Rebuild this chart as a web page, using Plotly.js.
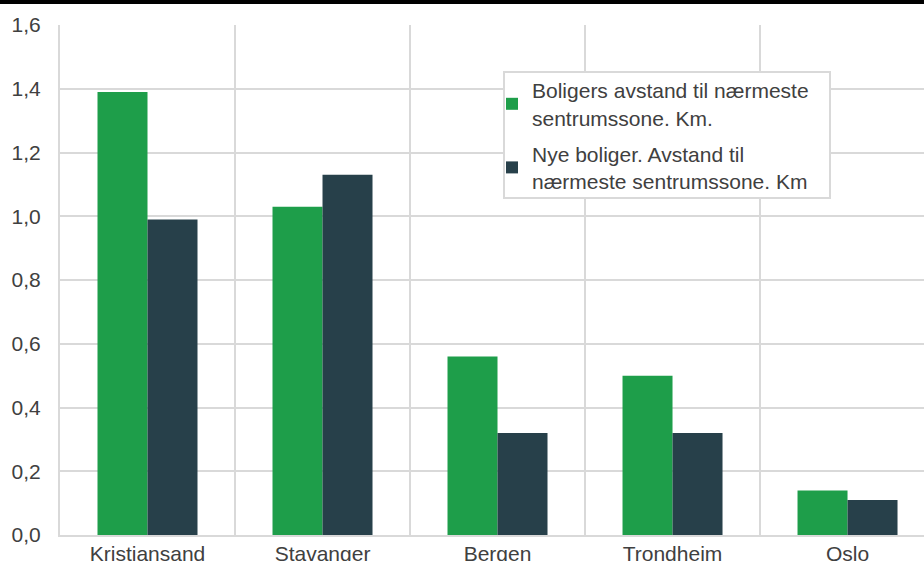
<!DOCTYPE html>
<html>
<head>
<meta charset="utf-8">
<script src="https://cdn.plot.ly/plotly-3.0.1.min.js"></script>
<style>
  html, body { margin: 0; padding: 0; background: #fff; }
  #wrap { position: relative; width: 924px; height: 561px; overflow: hidden; }
  #chart { width: 924px; height: 561px; }
  #topline { position: absolute; left: 0; top: 0; width: 924px; height: 4px; background: #000; z-index: 5; }
</style>
</head>
<body>
<div id="wrap">
  <div id="chart"></div>
  <div id="topline"></div>
</div>
<script>
const cities = ["Kristiansand", "Stavanger", "Bergen", "Trondheim", "Oslo"];
const seriesNames = [
  "Boligers avstand til nærmeste<br>sentrumssone. Km.",
  "Nye boliger. Avstand til<br>nærmeste sentrumssone. Km"
];
const allHomes = [1.39, 1.03, 0.56, 0.50, 0.14];
const newHomes = [0.99, 1.13, 0.32, 0.32, 0.11];
const yTicks = [0, 0.2, 0.4, 0.6, 0.8, 1.0, 1.2, 1.4, 1.6];

const textColor = "#404040";
const gridColor = "#d9d9d9";
const font = { family: "Liberation Sans, Arial, sans-serif", size: 21, color: textColor };

const traces = [
  { type: "bar", x: cities, y: allHomes, name: seriesNames[0], legendgroup: "a",
    marker: { color: "#1e9e4a" }, hoverinfo: "x+y" },
  { type: "bar", x: cities, y: newHomes, name: seriesNames[1], legendgroup: "b",
    marker: { color: "#27404a" }, hoverinfo: "x+y" }
];

const plotW = 864, plotH = 510, plotL = 60, plotT = 25;

const layout = {
  width: 924, height: 561,
  margin: { l: 60, r: 0, t: 25, b: 26, pad: 0 },
  paper_bgcolor: "#fff", plot_bgcolor: "#fff",
  font: font,
  separators: ", ",
  barmode: "group",
  bargap: 0.4286,
  bargroupgap: 0,
  showlegend: true,
  legend: {
    x: (492 - plotL) / plotW, xanchor: "left", xref: "paper",
    y: 1 - (70 - plotT) / plotH, yanchor: "top", yref: "paper",
    bgcolor: "rgba(0,0,0,0)", borderwidth: 0,
    font: font,
    traceorder: "grouped", tracegroupgap: 6,
    itemclick: false
  },
  shapes: [
    { type: "rect", xref: "paper", yref: "paper", layer: "above",
      x0: (504 - plotL) / plotW, x1: (830 - plotL) / plotW,
      y0: 1 - (198 - plotT) / plotH, y1: 1 - (72 - plotT) / plotH,
      fillcolor: "#fff", line: { color: gridColor, width: 2 } }
  ],
  xaxis: {
    type: "category",
    range: [-0.5, 4.437],
    tickson: "boundaries",
    ticks: "", showgrid: true, gridcolor: gridColor, gridwidth: 2,
    showline: true, linecolor: gridColor, linewidth: 2,
    tickfont: font, ticklabelstandoff: -1,
    fixedrange: true
  },
  yaxis: {
    range: [0, 1.6],
    tickvals: yTicks, tickformat: ".1f",
    ticks: "", showgrid: true, gridcolor: gridColor, gridwidth: 2,
    showline: true, linecolor: gridColor, linewidth: 2,
    zeroline: false,
    tickfont: font, ticklabelstandoff: 13,
    fixedrange: true
  }
};

Plotly.newPlot("chart", traces, layout, { displayModeBar: false, staticPlot: true });
</script>
</body>
</html>
